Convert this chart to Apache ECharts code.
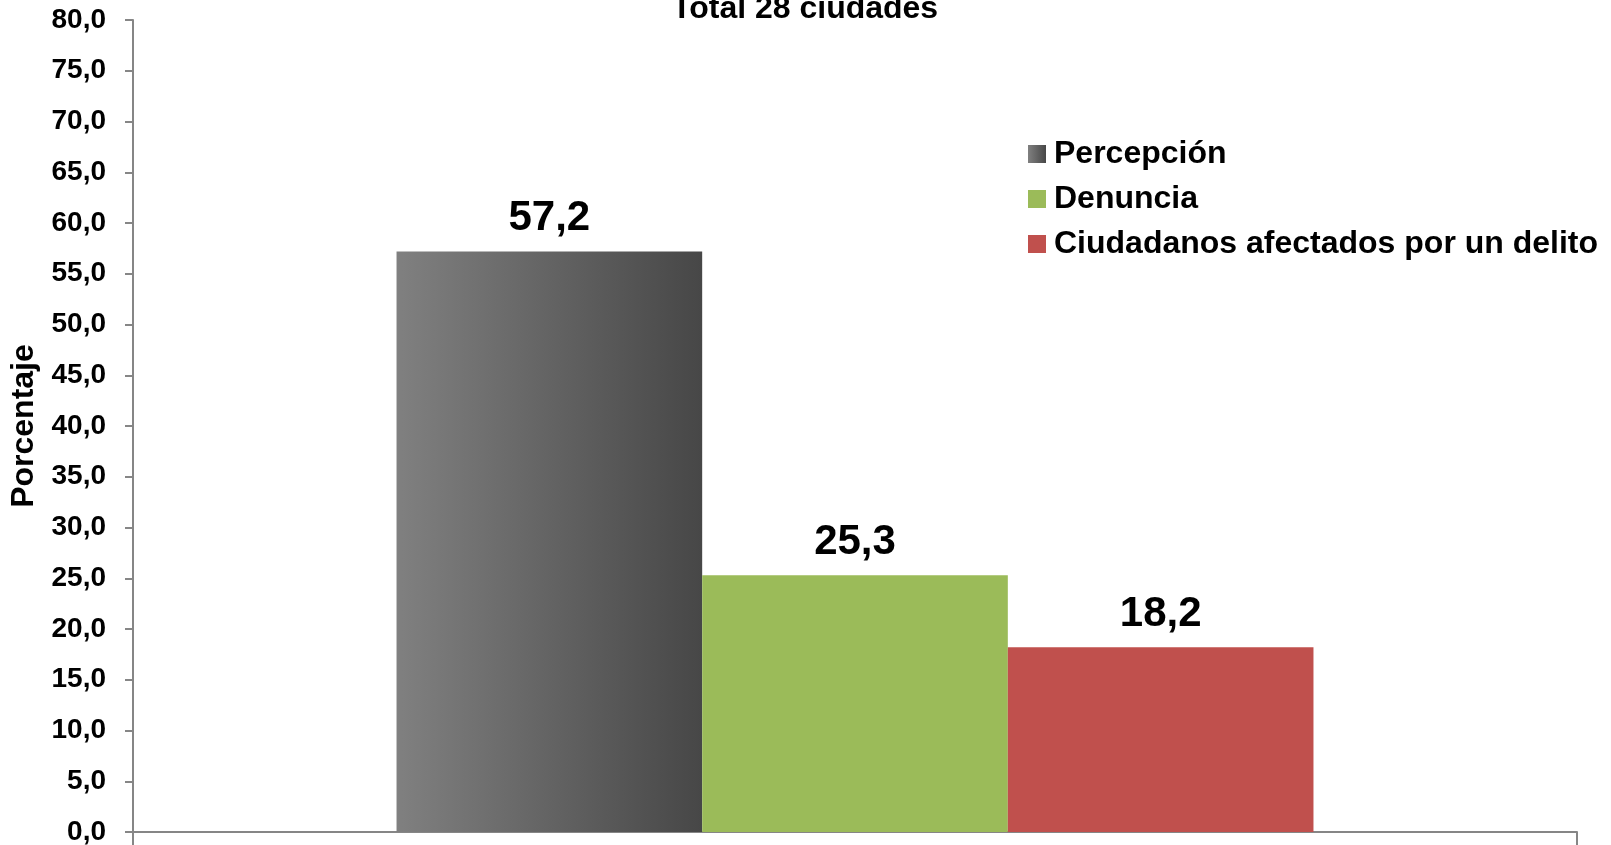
<!DOCTYPE html>
<html><head><meta charset="utf-8">
<script src="https://cdn.jsdelivr.net/npm/echarts@6/dist/echarts.min.js"></script>
<style>html,body{margin:0;padding:0;background:#fff}#c{width:1611px;height:845px}</style>
</head><body><div id="c"></div>
<script>
const titleText = 'Total 28 ciudades';
const seriesNames = ['Percepción', 'Denuncia', 'Ciudadanos afectados por un delito'];
const seriesValues = [57.2, 25.3, 18.2];
const categories = [''];
const yAxisName = 'Porcentaje';

const fmt = v => Number(v).toFixed(1).replace('.', ',');
const FONT = 'Liberation Sans, Arial, sans-serif';
const colors = [
  new echarts.graphic.LinearGradient(0, 0, 1, 0, [{offset: 0, color: '#808080'}, {offset: 1, color: '#474747'}]),
  '#9BBB59',
  '#C0504D'
];

const chart = echarts.init(document.getElementById('c'));
chart.setOption({
  animation: false,
  backgroundColor: '#ffffff',
  title: {
    text: titleText, left: 667, top: -12,
    textStyle: {fontFamily: FONT, fontWeight: 'bold', fontSize: 32, color: '#000'}
  },
  legend: {
    orient: 'vertical', left: 1023, top: 133,
    itemWidth: 18, itemHeight: 18, itemGap: 13,
    icon: 'rect',
    textStyle: {fontFamily: FONT, fontWeight: 'bold', fontSize: 32, color: '#000', lineHeight: 32, padding: [0, 0, 0, 3]},
    data: seriesNames
  },
  grid: {left: 133, right: 34, top: 20, bottom: 13, outerBoundsMode: 'none', containLabel: false},
  xAxis: {
    type: 'category', data: categories,
    axisLine: {lineStyle: {color: '#868686', width: 2}},
    axisTick: {show: true, length: 16, lineStyle: {color: '#868686', width: 2}},
    axisLabel: {show: false}
  },
  yAxis: {
    type: 'value', min: 0, max: 80, interval: 5,
    name: yAxisName, nameLocation: 'middle', nameGap: 90, nameRotate: 90,
    nameTextStyle: {fontFamily: FONT, fontWeight: 'bold', fontSize: 32, color: '#000'},
    axisLine: {show: true, lineStyle: {color: '#868686', width: 2}},
    axisTick: {show: true, length: 8, lineStyle: {color: '#868686', width: 2}},
    splitLine: {show: false},
    axisLabel: {formatter: fmt, margin: 27, fontFamily: FONT, fontWeight: 'bold', fontSize: 28, color: '#000'}
  },
  series: seriesNames.map((n, i) => ({
    name: n, type: 'bar',
    data: [seriesValues[i]],
    barGap: '0%', barCategoryGap: '36.5%',
    itemStyle: {color: colors[i]},
    label: {
      show: true, position: 'top', distance: 12,
      formatter: p => fmt(p.value),
      fontFamily: FONT, fontWeight: 'bold', fontSize: 42, color: '#000'
    }
  }))
});
</script></body></html>
